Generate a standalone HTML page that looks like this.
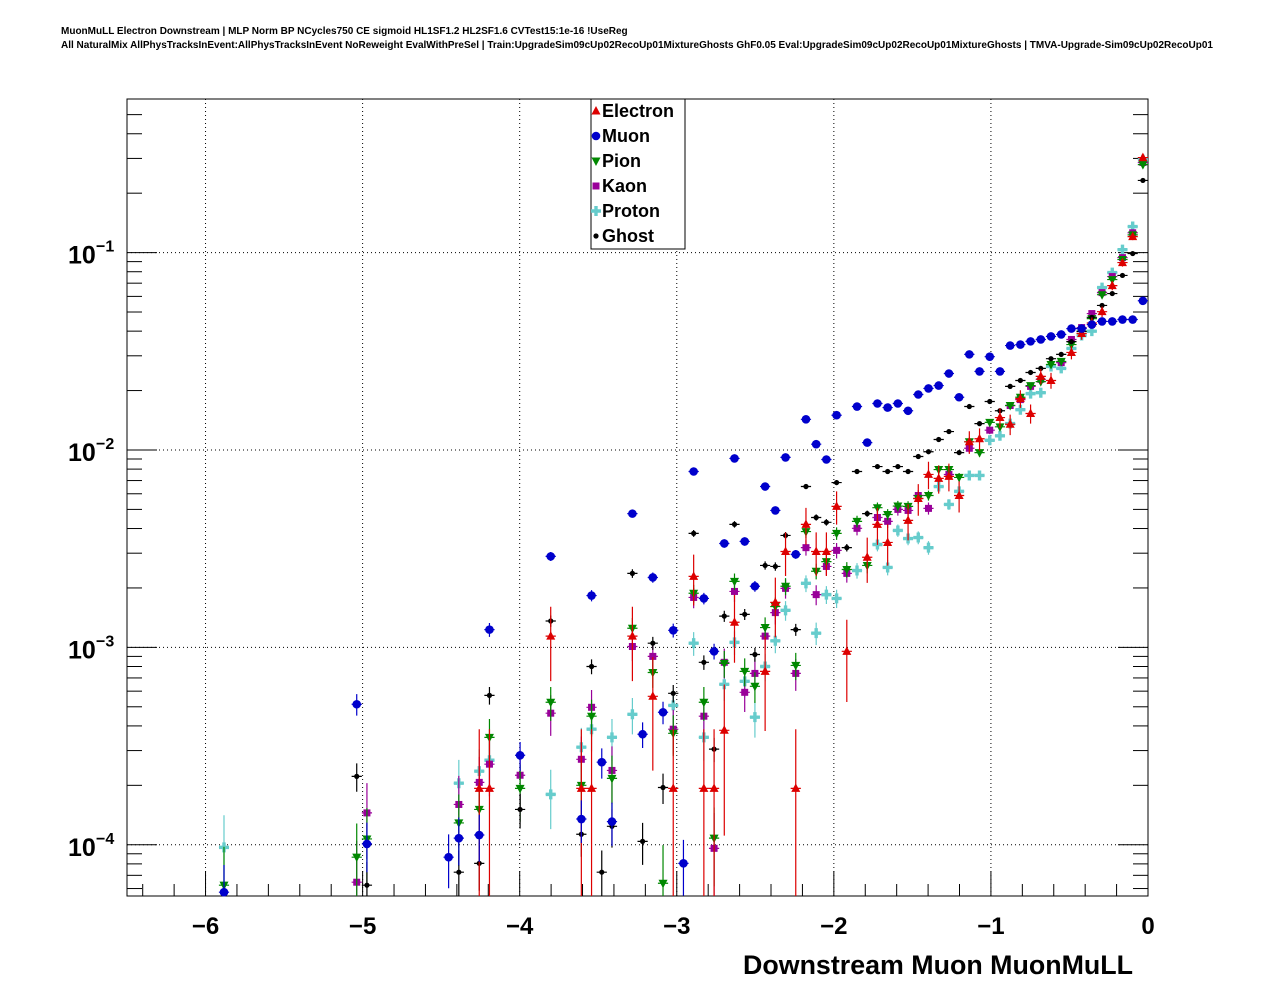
<!DOCTYPE html>
<html><head><meta charset="utf-8">
<style>
body{margin:0;background:#fff;}
svg{display:block;font-family:"Liberation Sans",sans-serif;}
</style></head>
<body>
<svg id="chart" width="1276" height="996" xmlns="http://www.w3.org/2000/svg">
<rect x="0" y="0" width="1276" height="996" fill="#fff"/>
<text x="61" y="34" font-size="10" font-weight="bold">MuonMuLL Electron Downstream | MLP Norm BP NCycles750 CE sigmoid HL1SF1.2 HL2SF1.6 CVTest15:1e-16 !UseReg</text>
<text x="61" y="48" font-size="10" font-weight="bold">All NaturalMix AllPhysTracksInEvent:AllPhysTracksInEvent NoReweight EvalWithPreSel | Train:UpgradeSim09cUp02RecoUp01MixtureGhosts GhF0.05 Eval:UpgradeSim09cUp02RecoUp01MixtureGhosts | TMVA-Upgrade-Sim09cUp02RecoUp01</text>
<g id="grid"></g>
<g id="axes"></g>
<g id="marks"></g>
<text x="1133" y="974" font-size="26.8" font-weight="bold" text-anchor="end">Downstream Muon MuonMuLL</text>
<g id="legend"></g>
</svg>
<script>
// bin index (0..99, width 0.065 from -6.5) and values
const muonBins=[99,98,97,96,95,94,93,92,91,90,89,88,87,86,85,84,83,82,81,80,79,78,77,76,75,74,73,72,71,69,68,67,66,64,63,62,60,59,58,56,55,49,41,51,45,35,61,65,53,57,52,50,38,46,44,47,32,34,31,54,22,23,9];
const muonVals=[0.057,0.0458,0.0458,0.0448,0.0448,0.0432,0.0412,0.0412,0.0385,0.0376,0.0363,0.0355,0.0342,0.0338,0.025,0.0297,0.025,0.0305,0.0185,0.0244,0.0212,0.0205,0.0191,0.0158,0.0172,0.0164,0.0172,0.0109,0.0166,0.015,0.00895,0.0107,0.0143,0.00917,0.00494,0.00653,0.00344,0.00906,0.00336,0.00177,0.00778,0.00476,0.00289,0.00226,0.00183,0.00123,0.00204,0.00296,0.00122,0.000955,0.000469,0.000363,0.000284,0.000262,0.000135,0.000131,0.000108,0.000112,0.0000865,0.0000805,0.000515,0.000101,0.0000575];
const ghostBins=[99,98,97,96,95,94,93,92,91,90,89,88,87,86,85,84,83,82,81,80,79,78,77,76,75,74,73,71,70,69,72,68,67,66,64,63,62,59,55,49,41,58,60,45,51,56,61,65,53,35,57,52,38,44,47,50,34,32,46,22,23];
const ghostVals=[0.232,0.0989,0.0766,0.062,0.054,0.047,0.0398,0.0354,0.0305,0.029,0.0259,0.0247,0.0225,0.021,0.0158,0.0176,0.0136,0.0166,0.0097,0.0124,0.0113,0.0098,0.00927,0.00778,0.00824,0.00778,0.00824,0.00778,0.0032,0.00684,0.00476,0.0043,0.00455,0.00653,0.00369,0.00257,0.0026,0.0042,0.00378,0.00237,0.00136,0.00144,0.00147,0.0008,0.00105,0.00084,0.00092,0.00123,0.000585,0.000571,0.000305,0.000195,0.000151,0.000113,0.000124,0.000104,0.0000805,0.0000726,0.0000726,0.000222,0.0000624];
const electronBins=[99,98,97,96,95,94,93,92,90,89,88,87,86,85,83,82,81,80,79,78,77,76,74,73,72,69,68,67,66,64,55,59,63,49,41,51,58,62,70,34,35,44,45,53,56,57,65];
const electronVals=[0.303,0.1205,0.089,0.068,0.0502,0.044,0.0389,0.0312,0.0225,0.0236,0.0153,0.0182,0.0135,0.0146,0.0114,0.011,0.00588,0.00735,0.00718,0.00752,0.00568,0.0044,0.0034,0.0042,0.00286,0.00518,0.00306,0.00306,0.0042,0.00306,0.00229,0.00134,0.00169,0.00114,0.00114,0.000565,0.00038,0.000756,0.000955,0.000193,0.000193,0.000193,0.000193,0.000193,0.000193,0.000193,0.000193];
const pionBins=[99,98,97,96,95,94,93,92,91,90,89,88,87,86,85,84,83,82,81,80,79,78,77,76,75,74,73,72,71,70,69,68,67,66,64,63,59,55,62,49,41,51,58,60,61,65,45,53,56,35,34,32,38,44,47,57,52,22,23,9];
const pionVals=[0.279,0.123,0.0922,0.073,0.0612,0.0463,0.04,0.0342,0.0281,0.0271,0.0222,0.0212,0.0185,0.0168,0.0131,0.0138,0.0097,0.011,0.00726,0.00796,0.00796,0.00588,0.00568,0.00518,0.0052,0.00471,0.0051,0.0026,0.00435,0.00248,0.00378,0.00272,0.00243,0.00386,0.00204,0.00161,0.00216,0.00188,0.00126,0.00125,0.000527,0.000746,0.00083,0.000756,0.000635,0.00081,0.000448,0.000367,0.000527,0.00035,0.000151,0.000129,0.000193,0.0002,0.000217,0.000108,0.0000638,0.0000865,0.000107,0.0000624];
const kaonBins=[99,98,97,96,95,94,93,92,91,89,88,87,86,84,82,80,78,77,76,75,74,73,71,70,69,68,67,66,64,63,59,55,62,49,41,51,60,61,65,56,58,53,45,35,34,32,38,44,47,57,22,23];
const kaonVals=[0.286,0.126,0.0943,0.0756,0.0627,0.0491,0.0417,0.0363,0.0277,0.0228,0.021,0.018,0.0168,0.0126,0.0102,0.00752,0.00506,0.00588,0.00494,0.005,0.00435,0.00455,0.00401,0.00237,0.0031,0.00257,0.00185,0.0032,0.00199,0.0015,0.00192,0.00179,0.00114,0.00101,0.000464,0.0009,0.000592,0.000738,0.000738,0.000448,0.00084,0.000385,0.000497,0.000256,0.000207,0.00016,0.000225,0.000271,0.000238,0.0000959,0.0000646,0.000145];
const protonBins=[99,98,97,96,95,94,93,92,91,90,89,88,87,86,85,84,83,82,81,80,79,78,77,76,75,74,73,71,69,68,66,64,63,59,55,67,62,58,60,61,53,49,56,45,47,44,41,35,34,32,9];
const protonVals=[0.296,0.1355,0.1035,0.0792,0.0665,0.04,0.038,0.0327,0.0259,0.0265,0.0195,0.0193,0.016,0.0136,0.0118,0.0112,0.00743,0.00743,0.00617,0.0053,0.00653,0.0032,0.0036,0.00356,0.00391,0.00254,0.00332,0.00245,0.00177,0.00185,0.00211,0.00154,0.00108,0.00106,0.00105,0.00118,0.0008,0.00065,0.000673,0.000443,0.000508,0.000458,0.00035,0.000385,0.00035,0.000312,0.00018,0.000268,0.000236,0.000205,0.000097];
const xTicks=[-6,-5,-4,-3,-2,-1,0];
const xTickLabels=["\u22126","\u22125","\u22124","\u22123","\u22122","\u22121","0"];
const yDecades=[-4,-3,-2,-1];
const yTickExps=["\u22124","\u22123","\u22122","\u22121"];
const legendLabels=["Electron","Muon","Pion","Kaon","Proton","Ghost"];

const NS="http://www.w3.org/2000/svg";
const L=127,R=1148,T=99,B=896;
const XMIN=-6.5,XMAX=0,BW=0.065;
const YMINL=Math.log10(5.5e-5),YMAXL=Math.log10(0.6);
function xs(v){return L+(v-XMIN)/(XMAX-XMIN)*(R-L);}
function ys(v){return B-(Math.log10(v)-YMINL)/(YMAXL-YMINL)*(B-T);}
function binX(i){return XMIN+BW*(i+0.5);}
function mk(tag,attrs,parent){const e=document.createElementNS(NS,tag);for(const k in attrs)e.setAttribute(k,attrs[k]);parent.appendChild(e);return e;}
const grid=document.getElementById('grid'),axes=document.getElementById('axes'),marks=document.getElementById('marks'),leg=document.getElementById('legend');

xTicks.forEach(t=>{const x=xs(t);if(t>XMIN&&t<XMAX){const g=mk('line',{x1:x,x2:x,y1:T,y2:B,stroke:'#000','stroke-width':1,'stroke-dasharray':'1,3'},grid);

}});
yDecades.forEach(d=>{const y=ys(Math.pow(10,d));const g=mk('line',{x1:L,x2:R,y1:y,y2:y,stroke:'#000','stroke-width':1,'stroke-dasharray':'1,3'},grid);

});
const fr=mk('rect',{x:L,y:T,width:R-L,height:B-T,fill:'none',stroke:'#000','stroke-width':1},axes);


for(let k=0;k<=32;k++){const v=XMIN+0.1+k*0.2;const x=xs(v);const major=Math.abs(v-Math.round(v))<1e-6;const len=major?25:12;
mk('line',{x1:x,x2:x,y1:B,y2:B-len,stroke:'#000','stroke-width':1},axes);}
xTicks.forEach((t,i)=>{const tx=mk('text',{x:xs(t),y:B+38,'font-size':24,'font-weight':'bold','text-anchor':'middle'},axes);tx.textContent=xTickLabels[i];

});
for(let d=-5;d<=0;d++){for(let m=1;m<10;m++){const v=m*Math.pow(10,d);const lv=Math.log10(v);if(lv<YMINL||lv>YMAXL)continue;const y=ys(v);const len=m===1?30:15;
mk('line',{x1:L,x2:L+len,y1:y,y2:y,stroke:'#000','stroke-width':1},axes);
mk('line',{x1:R,x2:R-len,y1:y,y2:y,stroke:'#000','stroke-width':1},axes);}}
yDecades.forEach((d,i)=>{const y=ys(Math.pow(10,d));const tx=mk('text',{x:68,y:y+11,'font-size':25,'font-weight':'bold'},axes);tx.textContent='10';


const sp=mk('text',{x:96,y:y-1,'font-size':16,'font-weight':'bold'},axes);sp.textContent=yTickExps[i];

});

function marker(type,cx,cy,col,parent){
 if(type==='tri-up')return mk('polygon',{points:`${cx},${cy-5} ${cx-4.5},${cy+3.5} ${cx+4.5},${cy+3.5}`,fill:col},parent);
 if(type==='tri-down')return mk('polygon',{points:`${cx},${cy+5} ${cx-4.5},${cy-3.5} ${cx+4.5},${cy-3.5}`,fill:col},parent);
 if(type==='circle')return mk('circle',{cx:cx,cy:cy,r:4.3,fill:col},parent);
 if(type==='square')return mk('rect',{x:cx-3.5,y:cy-3.5,width:7,height:7,fill:col},parent);
 if(type==='cross')return mk('path',{d:`M${cx-1.7},${cy-5}h3.4v3.3h3.3v3.4h-3.3v3.3h-3.4v-3.3h-3.3v-3.4h3.3z`,fill:col},parent);
 return mk('circle',{cx:cx,cy:cy,r:2.6,fill:col},parent);
}
const series=[
 {name:'proton',bins:protonBins,vals:protonVals,col:'#66cccc',type:'cross',w:2e-5},
 {name:'kaon',bins:kaonBins,vals:kaonVals,col:'#990099',type:'square',w:2.5e-5},
 {name:'pion',bins:pionBins,vals:pionVals,col:'#008800',type:'tri-down',w:2e-5},
 {name:'ghost',bins:ghostBins,vals:ghostVals,col:'#000000',type:'dot',w:6e-6},
 {name:'electron',bins:electronBins,vals:electronVals,col:'#dd0000',type:'tri-up',w:1.9e-4},
 {name:'muon',bins:muonBins,vals:muonVals,col:'#0000cc',type:'circle',w:8e-6}
];
series.forEach(s=>{
 const g=mk('g',{},marks);
 
 
 s.bins.forEach((b,i)=>{
  const v=s.vals[i];const x=binX(b);const cx=xs(x),cy=ys(v);
  const err=v*Math.sqrt(s.w/v);
  const lo=v-err>0?ys(v-err):B;const hi=ys(v+err);
  const eb=mk('path',{d:`M${xs(x-BW/2)},${cy}H${xs(x+BW/2)}M${cx},${Math.min(lo,B)}V${Math.max(hi,T)}`,stroke:s.col,'stroke-width':1.2,fill:'none'},g);
  
  
  const m=marker(s.type,cx,cy,s.col,g);
  
  
 });
});

const lb=mk('rect',{x:591,y:99,width:94,height:150,fill:'#fff',stroke:'#000','stroke-width':1},leg);


const legTypes=['tri-up','circle','tri-down','square','cross','dot'];
const legCols=['#dd0000','#0000cc','#008800','#990099','#66cccc','#000000'];
legendLabels.forEach((t,i)=>{const y=111+i*25;
 const m=marker(legTypes[i],596,y,legCols[i],leg);
 
 
 const tx=mk('text',{x:602,y:y+6,'font-size':18,'font-weight':'bold'},leg);tx.textContent=t;
 
 
});
</script>
</body></html>
